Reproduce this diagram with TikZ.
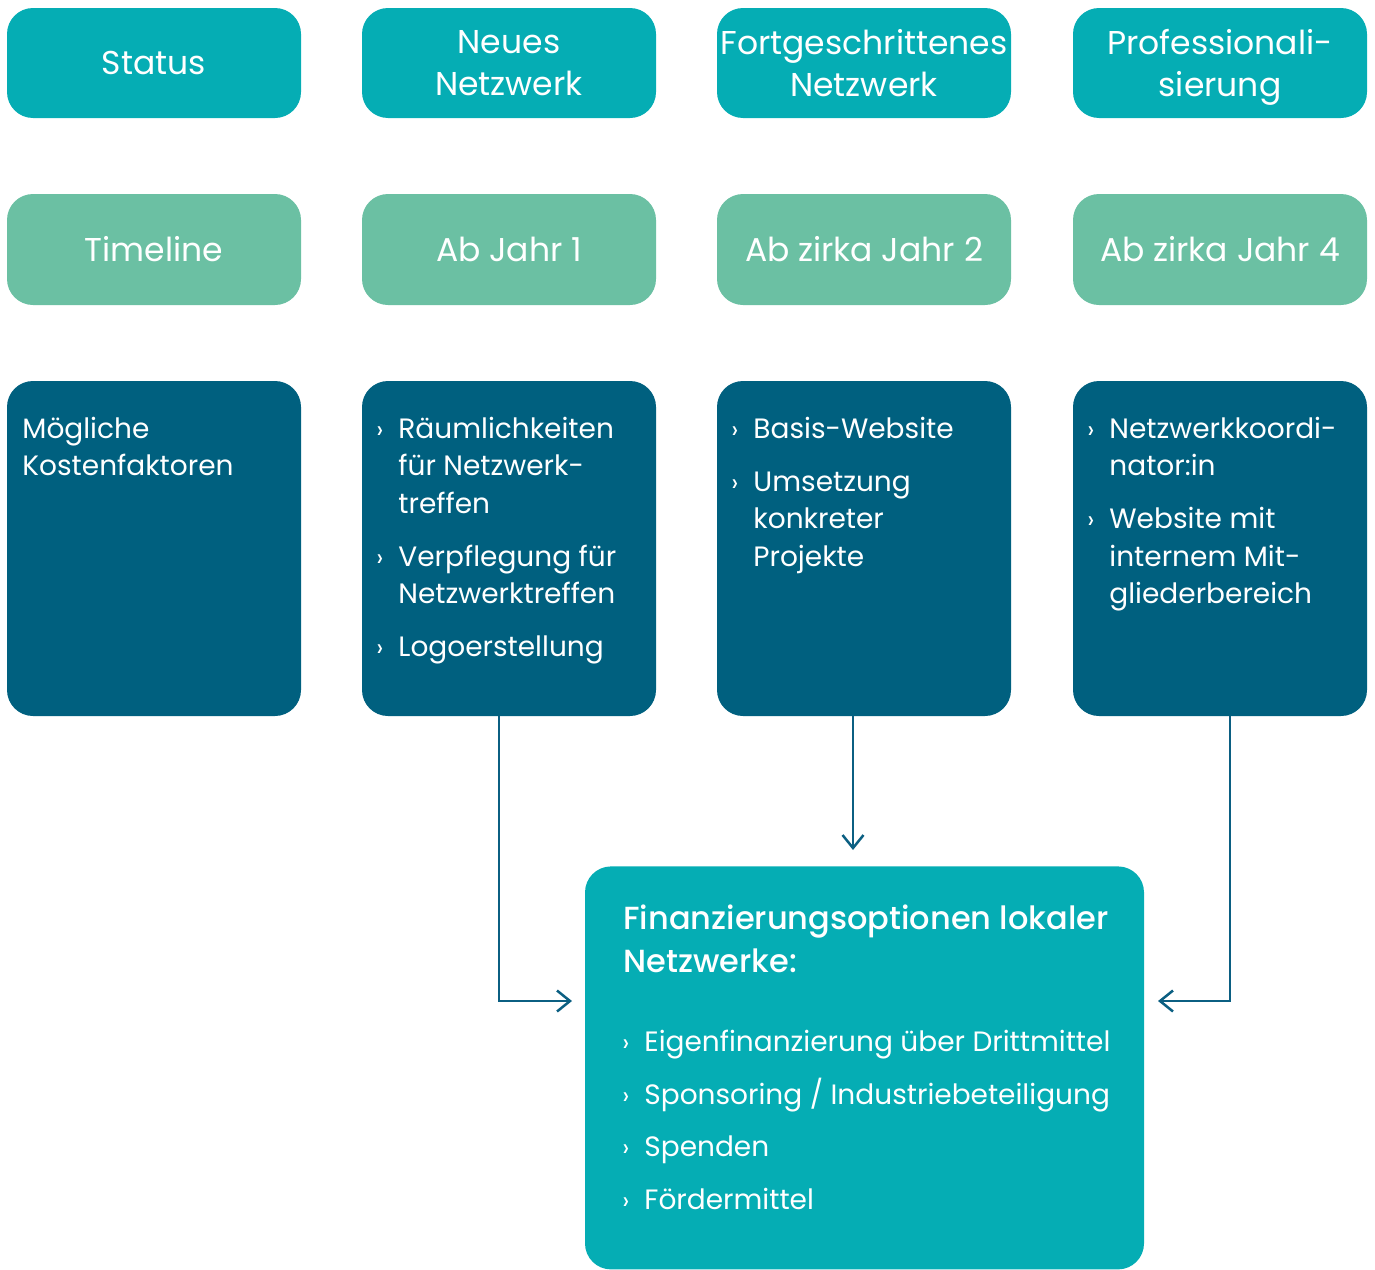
\documentclass[tikz,border=0pt]{standalone}
\usepackage{fontspec}
\setmainfont{Poppins}
\newfontfamily\titlefont{Poppins}[UprightFont=* Medium]
\usetikzlibrary{arrows.meta}
\definecolor{teal}{HTML}{05ADB4}
\definecolor{mint}{HTML}{6BC0A3}
\definecolor{navy}{HTML}{00607F}
\definecolor{arrowc}{HTML}{0B5F82}
\newcommand{\bul}{{\fontsize{12.5}{12.5}\selectfont ›}}
\newcommand{\hdrfont}{\fontsize{16.5}{21}\selectfont}
\newcommand{\bodyfont}{\fontsize{14}{18.75}\selectfont}
\newcommand{\nodepth}[1]{\raisebox{0pt}[\height][0pt]{#1}}
\begin{document}
\begin{tikzpicture}[x=0.5pt,y=-0.5pt,
  box/.style={rounded corners=13pt, minimum width=147pt, inner sep=0pt, text=white, align=center},
  hdr/.style={box, fill=teal, minimum height=55pt, font=\hdrfont},
  tl/.style={box, fill=mint, minimum height=55.5pt, font=\hdrfont},
  cost/.style={box, fill=navy, minimum height=167.5pt},
  txt/.style={anchor=base west, inner sep=0pt, text=white, font=\bodyfont},
  arr/.style={draw=arrowc, line width=1.25pt, -{Straight Barb[length=6.5pt,width=10.5pt,line width=1.25pt]}}
]
\useasboundingbox (0,0) rectangle (1375,1269);
% header row
\node[hdr] (h1) at (154,63) {Status};
\node[hdr] (h2) at (509,63) {Neues\\Netzwerk};
\node[hdr] (h3) at (864,63) {Fortgeschrittenes\\Netzwerk};
\node[hdr] (h4) at (1220,63) {Professionali-\\\nodepth{sierung}};
% timeline row
\node[tl] (t1) at (154,249.5) {Timeline};
\node[tl] (t2) at (509,249.5) {Ab Jahr 1};
\node[tl] (t3) at (864,249.5) {Ab zirka Jahr 2};
\node[tl] (t4) at (1220,249.5) {Ab zirka Jahr 4};
% cost row
\node[cost] (c1) at (154,548.5) {};
\node[cost] (c2) at (509,548.5) {};
\node[cost] (c3) at (864,548.5) {};
\node[cost] (c4) at (1220,548.5) {};
\node[txt] (c1t) at (22,438) {\begin{tabular}[t]{@{}l@{}}Mögliche\\Kostenfaktoren\end{tabular}};
\node[txt] (c2t) at (376,438) {\begin{tabular}[t]{@{}p{11pt}@{}l@{}}\bul & Räumlichkeiten\\ & für Netzwerk-\\ & treffen\\[7.75pt]
\bul & Verpflegung für\\ & Netzwerktreffen\\[7.75pt]
\bul & Logoerstellung\end{tabular}};
\node[txt] (c3t) at (731,438) {\begin{tabular}[t]{@{}p{11pt}@{}l@{}}\bul & Basis-Website\\[7.75pt]
\bul & Umsetzung\\ & konkreter\\ & Projekte\end{tabular}};
\node[txt] (c4t) at (1087,438) {\begin{tabular}[t]{@{}p{11pt}@{}l@{}}\bul & Netzwerkkoordi-\\ & nator:in\\[7.75pt]
\bul & Website mit\\ & internem Mit-\\ & gliederbereich\end{tabular}};
% financing box
\node[box, fill=teal, minimum width=279.5pt, minimum height=201.5pt, anchor=north] (fin) at (864.5,866) {};
\node[txt, font=\fontsize{16}{21.5}\selectfont\titlefont] (fint) at (623,929) {\begin{tabular}[t]{@{}l@{}}Finanzierungsoptionen lokaler\\Netzwerke:\end{tabular}};
\node[txt] (finl) at (622,1051) {\def\arraystretch{1.413}\begin{tabular}[t]{@{}p{11pt}@{}l@{}}\bul & Eigenfinanzierung über Drittmittel\\
\bul & Sponsoring / Industriebeteiligung\\
\bul & Spenden\\
\bul & Fördermittel\end{tabular}};
% arrows
\coordinate (a1) at (572,1001);
\coordinate (a2) at (853,850);
\coordinate (a3) at (1158,1001);
\draw[arr] (c2.south -| 499,0) |- (a1);
\draw[arr] (c3.south -| a2) -- (a2);
\draw[arr] (c4.south -| 1230,0) |- (a3);
\end{tikzpicture}
\end{document}
